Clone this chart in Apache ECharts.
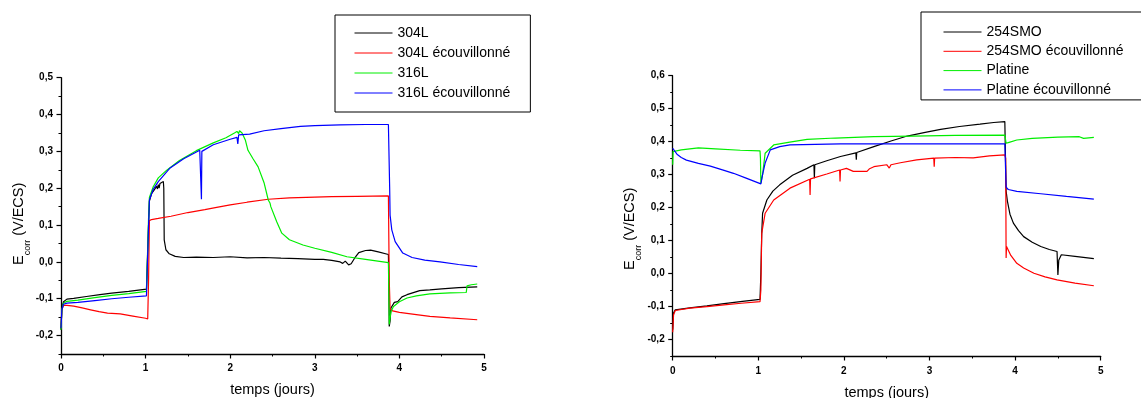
<!DOCTYPE html>
<html>
<head>
<meta charset="utf-8">
<script src="https://cdn.jsdelivr.net/npm/echarts@6/dist/echarts.min.js"></script>
<style>
html,body{margin:0;padding:0;background:#fff;}
#chart{width:1141px;height:398px;}
</style>
</head>
<body>
<div id="chart"></div>
<script>
// ---------- Left chart data: [temps (jours), Ecorr (V/ECS)] ----------
const leftNames = ['304L', '304L écouvillonné', '316L', '316L écouvillonné'];
const s304L = [[0,-0.184],[0.01,-0.125],[0.03,-0.108],[0.07,-0.101],[0.15,-0.099],[0.3,-0.094],[0.46,-0.089],[0.6,-0.085],[0.8,-0.080],[1.01,-0.074],[1.025,-0.074],[1.035,0.10],[1.045,0.165],[1.07,0.185],[1.10,0.195],[1.13,0.205],[1.14,0.198],[1.15,0.21],[1.16,0.2],[1.17,0.213],[1.19,0.215],[1.21,0.218],[1.215,0.20],[1.22,0.06],[1.24,0.033],[1.28,0.022],[1.35,0.015],[1.45,0.012],[1.6,0.013],[1.8,0.012],[2.0,0.014],[2.2,0.011],[2.4,0.012],[2.6,0.010],[2.8,0.009],[3.0,0.007],[3.1,0.007],[3.2,0.004],[3.3,0.0],[3.33,-0.004],[3.36,0.002],[3.4,-0.008],[3.43,-0.005],[3.47,0.01],[3.52,0.025],[3.6,0.031],[3.66,0.032],[3.75,0.027],[3.87,0.02],[3.875,-0.05],[3.88,-0.175],[3.89,-0.16],[3.90,-0.125],[3.92,-0.12],[3.94,-0.11],[3.96,-0.113],[3.98,-0.108],[4.03,-0.095],[4.09,-0.089],[4.24,-0.078],[4.36,-0.076],[4.5,-0.073],[4.7,-0.07],[4.92,-0.068]];
const s304LEc = [[0,-0.18],[0.01,-0.13],[0.03,-0.118],[0.07,-0.118],[0.15,-0.12],[0.25,-0.125],[0.35,-0.13],[0.45,-0.135],[0.55,-0.139],[0.7,-0.141],[0.85,-0.147],[1.0,-0.153],[1.025,-0.155],[1.035,-0.05],[1.045,0.112],[1.07,0.115],[1.15,0.118],[1.3,0.124],[1.5,0.134],[1.7,0.142],[1.84,0.148],[2.0,0.155],[2.2,0.162],[2.45,0.17],[2.7,0.174],[3.0,0.176],[3.2,0.177],[3.5,0.178],[3.87,0.179],[3.88,-0.05],[3.89,-0.128],[3.92,-0.133],[4.0,-0.137],[4.2,-0.143],[4.36,-0.148],[4.6,-0.152],[4.92,-0.157]];
const s316L = [[0,-0.184],[0.01,-0.13],[0.03,-0.112],[0.07,-0.107],[0.2,-0.104],[0.4,-0.097],[0.6,-0.091],[0.8,-0.086],[1.01,-0.080],[1.025,-0.080],[1.035,0.12],[1.045,0.175],[1.09,0.204],[1.15,0.228],[1.25,0.249],[1.4,0.275],[1.6,0.302],[1.8,0.323],[1.95,0.337],[2.05,0.35],[2.08,0.354],[2.1,0.348],[2.11,0.356],[2.14,0.35],[2.18,0.33],[2.21,0.303],[2.27,0.28],[2.33,0.258],[2.4,0.215],[2.45,0.168],[2.47,0.16],[2.48,0.15],[2.5,0.145],[2.55,0.109],[2.61,0.078],[2.7,0.06],[2.86,0.046],[3.0,0.037],[3.2,0.026],[3.38,0.014],[3.6,0.007],[3.87,-0.002],[3.875,-0.08],[3.88,-0.17],[3.89,-0.175],[3.9,-0.135],[3.93,-0.121],[4.0,-0.108],[4.09,-0.098],[4.2,-0.092],[4.36,-0.087],[4.6,-0.084],[4.79,-0.083],[4.8,-0.065],[4.85,-0.062],[4.92,-0.06]];
const s316LEc = [[0,-0.18],[0.01,-0.13],[0.03,-0.115],[0.07,-0.112],[0.2,-0.11],[0.4,-0.105],[0.6,-0.1],[0.8,-0.096],[1.01,-0.092],[1.025,-0.092],[1.035,0.1],[1.045,0.168],[1.09,0.197],[1.15,0.218],[1.29,0.255],[1.45,0.28],[1.64,0.303],[1.655,0.305],[1.66,0.17],[1.665,0.30],[1.8,0.318],[2.0,0.333],[2.08,0.338],[2.09,0.32],[2.1,0.345],[2.23,0.347],[2.4,0.356],[2.6,0.362],[2.83,0.368],[3.0,0.37],[3.3,0.372],[3.6,0.373],[3.87,0.373],[3.88,0.372],[3.885,0.2],[3.89,0.127],[3.91,0.087],[3.95,0.055],[4.04,0.024],[4.15,0.012],[4.3,0.005],[4.48,0.0],[4.7,-0.007],[4.92,-0.013]];

// ---------- Right chart data ----------
const rightNames = ['254SMO', '254SMO écouvillonné', 'Platine', 'Platine écouvillonné'];
const s254 = [[0,-0.17],[0.01,-0.12],[0.03,-0.11],[0.05,-0.108],[0.2,-0.104],[0.4,-0.098],[0.6,-0.091],[0.79,-0.085],[1.02,-0.078],[1.03,0.0],[1.04,0.12],[1.05,0.183],[1.10,0.223],[1.17,0.25],[1.25,0.269],[1.4,0.298],[1.57,0.319],[1.65,0.33],[1.655,0.289],[1.66,0.33],[1.8,0.342],[1.96,0.355],[2.14,0.366],[2.145,0.345],[2.15,0.367],[2.35,0.385],[2.55,0.402],[2.74,0.417],[2.95,0.428],[3.13,0.437],[3.35,0.446],[3.59,0.453],[3.75,0.458],[3.88,0.461],[3.89,0.455],[3.895,0.25],[3.91,0.22],[3.94,0.18],[3.98,0.153],[4.04,0.13],[4.1,0.112],[4.2,0.095],[4.3,0.082],[4.4,0.073],[4.49,0.067],[4.495,0.03],[4.5,-0.004],[4.51,0.04],[4.54,0.057],[4.7,0.052],[4.92,0.045]];
const s254Ec = [[0,-0.178],[0.01,-0.125],[0.03,-0.112],[0.05,-0.109],[0.2,-0.105],[0.4,-0.1],[0.6,-0.095],[0.8,-0.09],[1.02,-0.085],[1.03,-0.05],[1.04,0.122],[1.08,0.183],[1.18,0.223],[1.37,0.259],[1.6,0.286],[1.605,0.238],[1.61,0.287],[1.8,0.302],[1.95,0.314],[1.955,0.279],[1.96,0.314],[2.03,0.319],[2.11,0.31],[2.27,0.31],[2.3,0.318],[2.35,0.324],[2.5,0.33],[2.53,0.32],[2.55,0.33],[2.66,0.336],[2.85,0.345],[3.05,0.35],[3.055,0.324],[3.06,0.35],[3.3,0.352],[3.51,0.351],[3.7,0.357],[3.88,0.36],[3.89,0.35],[3.895,0.047],[3.9,0.082],[3.95,0.055],[4.02,0.031],[4.1,0.017],[4.22,0.001],[4.35,-0.01],[4.49,-0.019],[4.7,-0.029],[4.92,-0.037]];
const sPt = [[0,0.33],[0.005,0.37],[0.01,0.376],[0.1,0.375],[0.2,0.378],[0.3,0.381],[0.5,0.378],[0.79,0.374],[1.02,0.372],[1.025,0.35],[1.03,0.274],[1.05,0.3],[1.08,0.365],[1.18,0.39],[1.35,0.398],[1.57,0.407],[1.9,0.411],[2.35,0.415],[2.8,0.417],[3.3,0.419],[3.88,0.42],[3.89,0.42],[3.895,0.395],[3.93,0.398],[4.02,0.405],[4.2,0.41],[4.5,0.414],[4.75,0.415],[4.8,0.41],[4.92,0.413]];
const sPtEc = [[0,0.38],[0.02,0.375],[0.05,0.362],[0.1,0.352],[0.16,0.344],[0.3,0.334],[0.44,0.326],[0.6,0.313],[0.71,0.304],[0.85,0.29],[1.0,0.275],[1.03,0.272],[1.05,0.3],[1.08,0.335],[1.14,0.375],[1.25,0.385],[1.37,0.39],[1.96,0.393],[3.0,0.393],[3.88,0.393],[3.89,0.39],[3.895,0.262],[3.92,0.255],[4.02,0.249],[4.3,0.242],[4.6,0.234],[4.92,0.226]];

const colors = ['#000000', '#ff0000', '#00ee00', '#0000ff'];
const FONT = 'Liberation Sans, Arial, sans-serif';

const chart = echarts.init(document.getElementById('chart'), null, {renderer: 'canvas'});

function fmtY(v) {
  if (Math.abs(Math.round(v * 10) - v * 10) > 1e-6) return '';
  let s = (Math.round(v * 10) / 10).toFixed(1);
  if (s === '-0.0') s = '0.0';
  return s.replace('.', ',');
}
function fmtX(v) {
  if (Math.abs(Math.round(v) - v) > 1e-6) return '';
  return String(Math.round(v));
}

function xAxes(gi, gap, lblMargin) {
  return [{
    gridIndex: gi, type: 'value', min: 0, max: 5, interval: 0.5, position: 'bottom',
    axisLine: {show: true, onZero: false, lineStyle: {color: '#000', width: 1.3}},
    axisTick: {show: true, length: 2.5, lineStyle: {color: '#000'}},
    axisLabel: {formatter: fmtX, color: '#000', fontSize: 10, fontWeight: 'bold', fontFamily: FONT, margin: lblMargin},
    splitLine: {show: false},
    name: 'temps (jours)', nameLocation: 'middle', nameGap: gap,
    nameTextStyle: {color: '#000', fontSize: 14.5, fontFamily: FONT}
  }, {
    gridIndex: gi, type: 'value', min: 0, max: 5, interval: 1, position: 'bottom', offset: 0,
    axisLine: {show: false, onZero: false},
    axisTick: {show: true, length: 4.5, lineStyle: {color: '#000', width: 1.2}},
    axisLabel: {show: false}, splitLine: {show: false}
  }];
}
function yAxes(gi, max, gap, pad) {
  const major = [];
  for (let k = -2; k <= Math.round(max * 10); k++) major.push(k / 10);
  return [{
    gridIndex: gi, type: 'value', min: -0.25, max: max, interval: 0.05, position: 'left',
    axisLine: {show: true, onZero: false, lineStyle: {color: '#000', width: 1.3}},
    axisTick: {show: true, length: 2.5, lineStyle: {color: '#000'}},
    axisLabel: {formatter: fmtY, color: '#000', fontSize: 10, fontWeight: 'bold', fontFamily: FONT, margin: 8},
    splitLine: {show: false},
    name: '{e|E}{sub|corr}{n| (V/ECS)}', nameLocation: 'middle', nameGap: gap,
    nameTextStyle: {
      color: '#000', fontFamily: FONT, padding: [0, pad, 0, 0],
      rich: {
        e: {fontSize: 14.5, fontFamily: FONT, color: '#000', lineHeight: 18},
        sub: {fontSize: 9, fontFamily: FONT, color: '#000', verticalAlign: 'bottom', lineHeight: 18, padding: [0, 0, -4, 0]},
        n: {fontSize: 14.5, fontFamily: FONT, color: '#000', lineHeight: 18}
      }
    }
  }, {
    gridIndex: gi, type: 'value', min: -0.25, max: max, interval: 0.05, position: 'left', offset: 0,
    axisLine: {show: false, onZero: false},
    axisTick: {show: true, length: 4.5, customValues: major, lineStyle: {color: '#000', width: 1.2}},
    axisLabel: {show: false}, splitLine: {show: false}
  }];
}

function mkSeries(name, data, color, xi, yi) {
  return {
    name: name, type: 'line', data: data, xAxisIndex: xi, yAxisIndex: yi,
    symbol: 'none', showSymbol: false, smooth: false,
    lineStyle: {color: color, width: 1.2}, itemStyle: {color: color},
    emphasis: {disabled: true}, silent: true
  };
}

const leftData = [s304L, s304LEc, s316L, s316LEc];
const rightData = [s254, s254Ec, sPt, sPtEc];
const series = [];
leftData.forEach((d, i) => series.push(mkSeries(leftNames[i], d, colors[i], 0, 0)));
rightData.forEach((d, i) => series.push(mkSeries(rightNames[i], d, colors[i], 2, 2)));

const legendText = {color: '#000', fontSize: 14, fontFamily: FONT};
chart.setOption({
  animation: false,
  backgroundColor: '#fff',
  grid: [
    {left: 61, top: 77.7, width: 423, height: 276.3, containLabel: false, outerBoundsMode: 'none'},
    {left: 672.7, top: 75.7, width: 428, height: 280.3, containLabel: false, outerBoundsMode: 'none'}
  ],
  xAxis: [...xAxes(0, 28, 9), ...xAxes(1, 29.5, 10.5)],
  yAxis: [...yAxes(0, 0.5, 33, 16), ...yAxes(1, 0.6, 34, 26)],
  legend: [{
    data: leftNames, orient: 'vertical', left: 335, top: 15,
    padding: [11, 20, 12, 19], itemWidth: 38, itemHeight: 14, itemGap: 6,
    itemStyle: {opacity: 0}, lineStyle: {width: 1},
    borderColor: '#000', borderWidth: 1, selectedMode: false, textStyle: legendText
  }, {
    data: rightNames, orient: 'vertical', left: 921, top: 12,
    padding: [13, 50, 3, 22], itemWidth: 38, itemHeight: 14, itemGap: 5.3,
    itemStyle: {opacity: 0}, lineStyle: {width: 1},
    borderColor: '#000', borderWidth: 1, selectedMode: false, textStyle: legendText
  }],
  series: series
});
</script>
</body>
</html>
